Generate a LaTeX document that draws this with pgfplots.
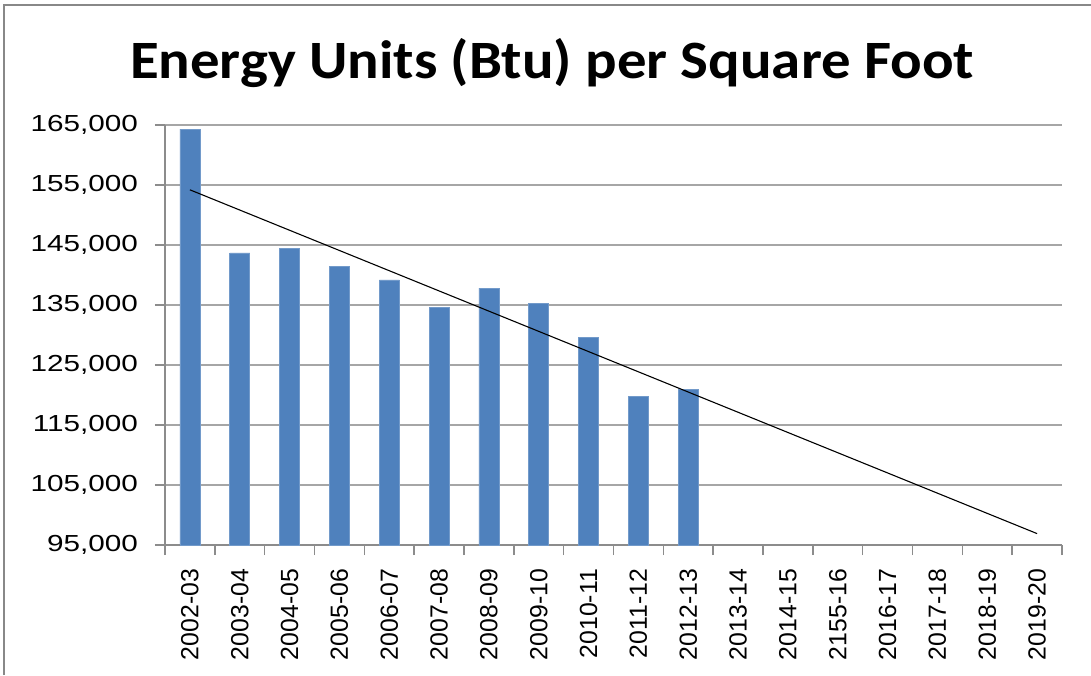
\documentclass[border=0pt]{standalone}
\usepackage{fontspec}
\setmainfont{Liberation Sans}
\newfontfamily\ytickfont[FakeStretch=1.28]{Liberation Sans}
\newfontfamily\titlefont[FakeStretch=1.09]{Carlito}
\usepackage{pgfplots}
\pgfplotsset{compat=1.18}
\definecolor{barblue}{HTML}{4F81BD}
\definecolor{gridgray}{HTML}{A6A6A6}
\definecolor{axisgray}{HTML}{8C8C8C}
\definecolor{framegray}{HTML}{888888}
\begin{document}
\begin{tikzpicture}
\path[use as bounding box] (0,0) rectangle (545.5pt,337.5pt);
\draw[framegray, line width=1.2pt] (2pt,0) -- (2pt,335pt) -- (545.5pt,335pt);
\node[font=\titlefont\bfseries\fontsize{27}{30}\selectfont] at (276pt,306pt) {Energy Units (Btu) per Square Foot};
\begin{axis}[
  at={(82.5pt,65pt)}, anchor=south west,
  scale only axis, width=448.5pt, height=210pt,
  xmin=-0.5, xmax=17.5, ymin=95000, ymax=165000,
  ytick={95000,105000,...,165000},
  scaled y ticks=false,
  yticklabel style={xshift=-5pt, font=\ytickfont\fontsize{11.6}{13}\selectfont, /pgf/number format/.cd, fixed, 1000 sep={,}, assume math mode=true},
  xtick={0,...,17},
  xticklabels={2002-03,2003-04,2004-05,2005-06,2006-07,2007-08,2008-09,2009-10,2010-11,2011-12,2012-13,2013-14,2014-15,2155-16,2016-17,2017-18,2018-19,2019-20},
  xticklabel style={rotate=90, anchor=east, xshift=-3.5pt, font=\fontsize{12.4}{14}\selectfont},
  major x tick style={draw=none},
  minor xtick={-0.5,0.5,...,17.5},
  tick align=outside,
  major tick length=5pt, minor tick length=5pt,
  tick style={axisgray, line width=0.7pt},
  ymajorgrids, grid style={gridgray, line width=0.7pt},
  axis x line*=bottom, axis y line*=left,
  axis line style={axisgray, line width=0.7pt, -},
  clip=false,
]
\addplot[ybar, bar width=10pt, fill=barblue, draw=barblue!80!white, line width=0.3pt] coordinates {
(0,164300) (1,143700) (2,144400) (3,141500) (4,139200) (5,134600) (6,137800) (7,135300) (8,129600) (9,119800) (10,120900)};
\addplot[black, line width=0.55pt] coordinates {(0,154200) (17,96900)};
\end{axis}
\end{tikzpicture}
\end{document}
